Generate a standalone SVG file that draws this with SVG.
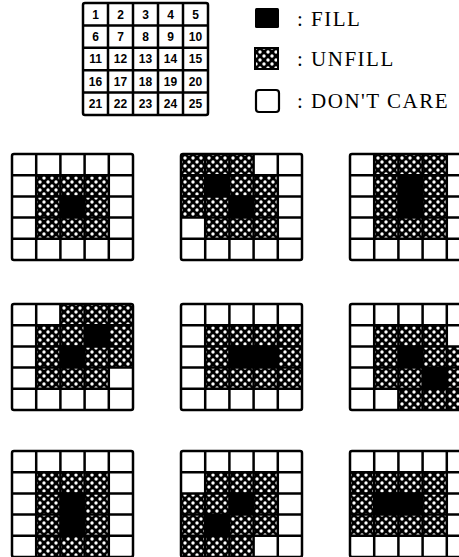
<svg xmlns="http://www.w3.org/2000/svg" xmlns:xlink="http://www.w3.org/1999/xlink" width="459" height="557" viewBox="0 0 459 557">
<style>
.bg{fill:#fff}
.u{fill:url(#hatch)}
.f{fill:#000}
.lines{fill:none;stroke:#000;stroke-width:2.5}
.num{font-family:"Liberation Sans",Arial,sans-serif;font-weight:bold;font-size:12px;text-anchor:middle;fill:#000}
.lab{font-family:"Liberation Serif","Times New Roman",serif;font-size:21px;letter-spacing:1.5px;fill:#000}
</style>
<defs>
<pattern id="hatch" patternUnits="userSpaceOnUse" width="8" height="8">
<rect width="8" height="8" fill="#000"/>
<circle cx="0" cy="0" r="1.7" fill="#fff"/><circle cx="8" cy="0" r="1.7" fill="#fff"/>
<circle cx="0" cy="8" r="1.7" fill="#fff"/><circle cx="8" cy="8" r="1.7" fill="#fff"/>
<circle cx="4" cy="4" r="1.7" fill="#fff"/>
</pattern>
<path id="gl" class="lines" d="M2,0H119Q121,0 121,2V104Q121,106 119,106H2Q0,106 0,104V2Q0,0 2,0Z M24.2,0V106 M48.4,0V106 M72.6,0V106 M96.8,0V106 M0,21.2H121 M0,42.4H121 M0,63.6H121 M0,84.8H121"/>
<rect id="gbg" class="bg" width="121" height="106"/>
</defs>

<g id="legend-grid">
<rect x="83" y="3" width="125" height="112" class="bg"/>
<path class="lines" d="M85,3H206Q208,3 208,5V113Q208,115 206,115H85Q83,115 83,113V5Q83,3 85,3Z M108,3V115 M133,3V115 M158,3V115 M183,3V115 M83,25.4H208 M83,47.8H208 M83,70.2H208 M83,92.6H208"/>
<text class="num" x="95.5" y="18.5">1</text><text class="num" x="120.5" y="18.5">2</text><text class="num" x="145.5" y="18.5">3</text><text class="num" x="170.5" y="18.5">4</text><text class="num" x="195.5" y="18.5">5</text>
<text class="num" x="95.5" y="40.9">6</text><text class="num" x="120.5" y="40.9">7</text><text class="num" x="145.5" y="40.9">8</text><text class="num" x="170.5" y="40.9">9</text><text class="num" x="195.5" y="40.9">10</text>
<text class="num" x="95.5" y="63.3">11</text><text class="num" x="120.5" y="63.3">12</text><text class="num" x="145.5" y="63.3">13</text><text class="num" x="170.5" y="63.3">14</text><text class="num" x="195.5" y="63.3">15</text>
<text class="num" x="95.5" y="85.7">16</text><text class="num" x="120.5" y="85.7">17</text><text class="num" x="145.5" y="85.7">18</text><text class="num" x="170.5" y="85.7">19</text><text class="num" x="195.5" y="85.7">20</text>
<text class="num" x="95.5" y="108.1">21</text><text class="num" x="120.5" y="108.1">22</text><text class="num" x="145.5" y="108.1">23</text><text class="num" x="170.5" y="108.1">24</text><text class="num" x="195.5" y="108.1">25</text>
</g>

<g id="legend-fill">
<rect x="255" y="8" width="24" height="20" rx="1.5" class="f"/>
<text class="lab" x="297" y="26">: FILL</text>
</g>
<g id="legend-unfill">
<rect x="255" y="48" width="23" height="21" class="u" stroke="#000" stroke-width="2"/>
<text class="lab" x="297" y="66">: UNFILL</text>
</g>
<g id="legend-dontcare">
<rect x="256" y="90" width="23" height="22" rx="3" class="bg" stroke="#000" stroke-width="2.2"/>
<text class="lab" x="297" y="108">: DON'T CARE</text>
</g>

<g id="grid1" transform="translate(12,154)">
<use xlink:href="#gbg"/>
<rect class="u" x="24.2" y="21.2" width="72.6" height="63.6"/>
<rect class="f" x="48.4" y="42.4" width="24.2" height="21.2"/>
<use xlink:href="#gl"/>
</g>
<g id="grid2" transform="translate(181,154)">
<use xlink:href="#gbg"/>
<rect class="u" x="0" y="0" width="72.6" height="63.6"/>
<rect class="u" x="24.2" y="21.2" width="72.6" height="63.6"/>
<rect class="f" x="24.2" y="21.2" width="24.2" height="21.2"/>
<rect class="f" x="48.4" y="42.4" width="24.2" height="21.2"/>
<use xlink:href="#gl"/>
</g>
<g id="grid3" transform="translate(350,154)">
<use xlink:href="#gbg"/>
<rect class="u" x="24.2" y="0" width="72.6" height="84.8"/>
<rect class="f" x="48.4" y="21.2" width="24.2" height="42.4"/>
<use xlink:href="#gl"/>
</g>

<g id="grid4" transform="translate(12,304)">
<use xlink:href="#gbg"/>
<rect class="u" x="48.4" y="0" width="72.6" height="63.6"/>
<rect class="u" x="24.2" y="21.2" width="72.6" height="63.6"/>
<rect class="f" x="72.6" y="21.2" width="24.2" height="21.2"/>
<rect class="f" x="48.4" y="42.4" width="24.2" height="21.2"/>
<use xlink:href="#gl"/>
</g>
<g id="grid5" transform="translate(181,304)">
<use xlink:href="#gbg"/>
<rect class="u" x="24.2" y="21.2" width="96.8" height="63.6"/>
<rect class="f" x="48.4" y="42.4" width="48.4" height="21.2"/>
<use xlink:href="#gl"/>
</g>
<g id="grid6" transform="translate(350,304)">
<use xlink:href="#gbg"/>
<rect class="u" x="24.2" y="21.2" width="72.6" height="63.6"/>
<rect class="u" x="48.4" y="42.4" width="72.6" height="63.6"/>
<rect class="f" x="48.4" y="42.4" width="24.2" height="21.2"/>
<rect class="f" x="72.6" y="63.6" width="24.2" height="21.2"/>
<use xlink:href="#gl"/>
</g>

<g id="grid7" transform="translate(12,451)">
<use xlink:href="#gbg"/>
<rect class="u" x="24.2" y="21.2" width="72.6" height="84.8"/>
<rect class="f" x="48.4" y="42.4" width="24.2" height="42.4"/>
<use xlink:href="#gl"/>
</g>
<g id="grid8" transform="translate(181,451)">
<use xlink:href="#gbg"/>
<rect class="u" x="24.2" y="21.2" width="72.6" height="63.6"/>
<rect class="u" x="0" y="42.4" width="72.6" height="63.6"/>
<rect class="f" x="48.4" y="42.4" width="24.2" height="21.2"/>
<rect class="f" x="24.2" y="63.6" width="24.2" height="21.2"/>
<use xlink:href="#gl"/>
</g>
<g id="grid9" transform="translate(350,451)">
<use xlink:href="#gbg"/>
<rect class="u" x="0" y="21.2" width="96.8" height="63.6"/>
<rect class="f" x="24.2" y="42.4" width="48.4" height="21.2"/>
<use xlink:href="#gl"/>
</g>
</svg>
